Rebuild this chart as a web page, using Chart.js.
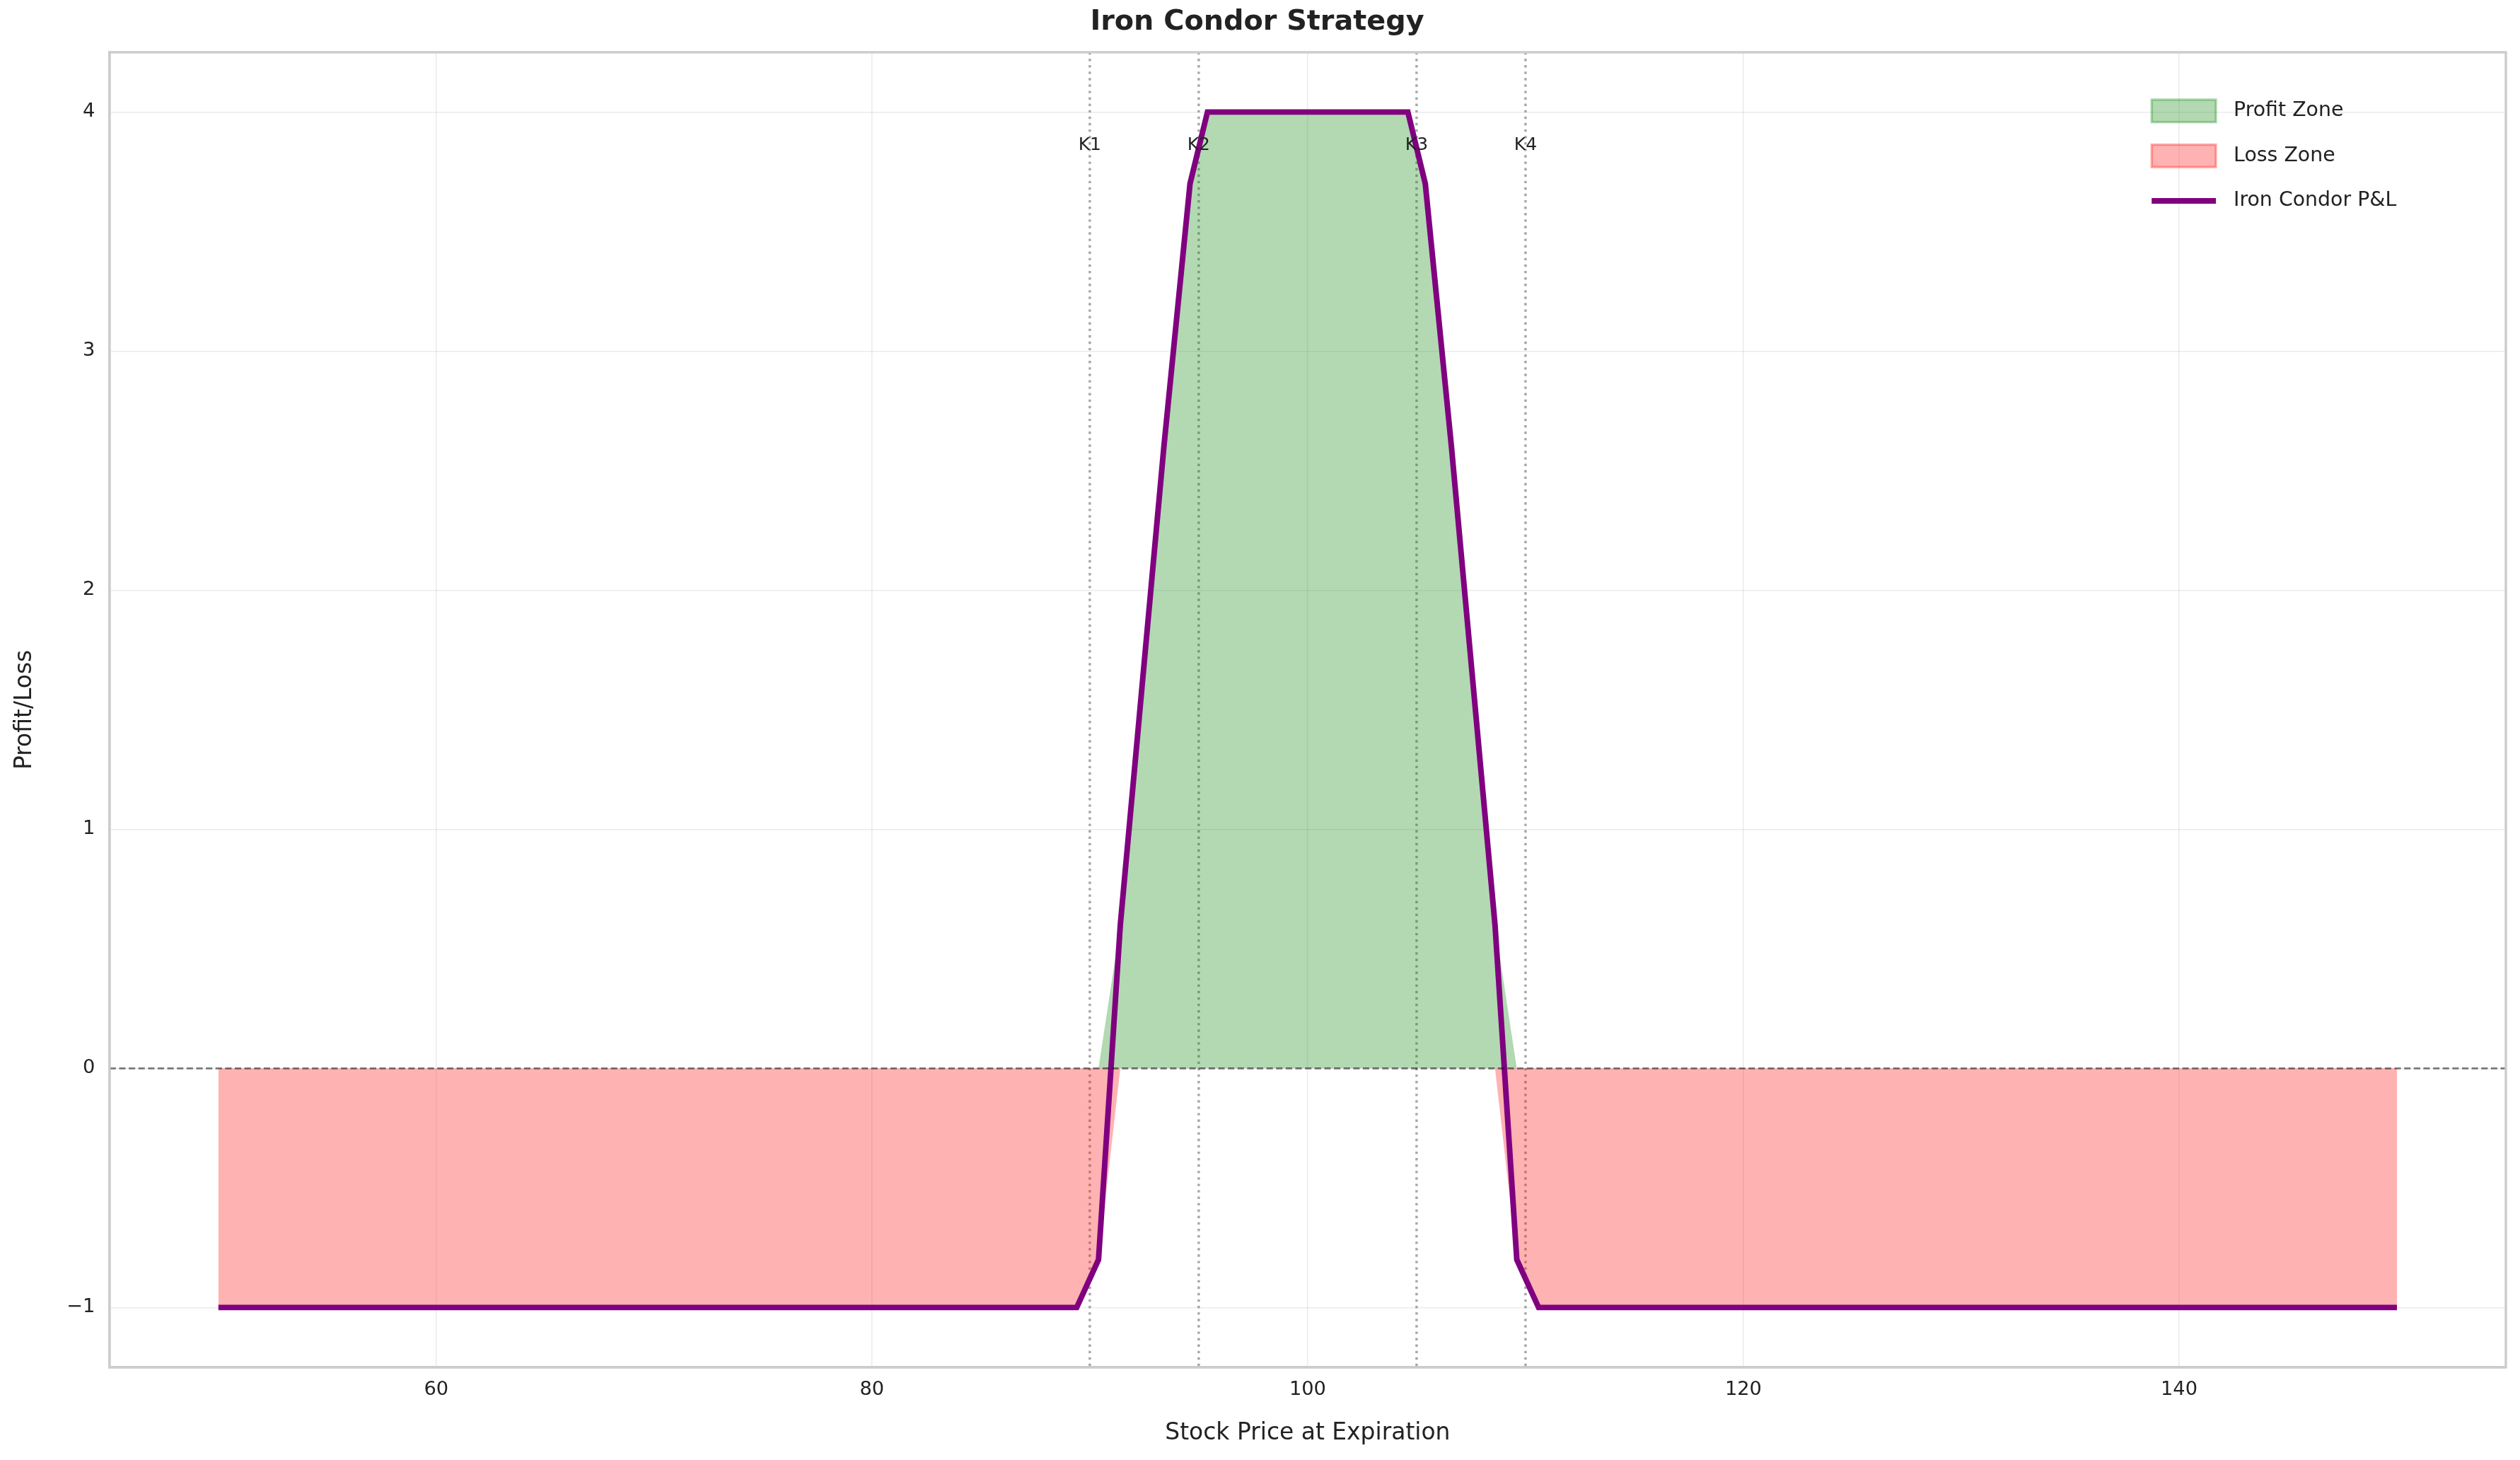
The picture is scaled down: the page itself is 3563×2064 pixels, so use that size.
<!DOCTYPE html>
<html>
<head>
<meta charset="utf-8">
<script src="https://cdn.jsdelivr.net/npm/chart.js@4"></script>
<style>
  body { margin: 0; background: #fff; }
  canvas { display: block; }
</style>
</head>
<body>
<canvas id="chart" width="3563" height="2064"></canvas>
<script>
// P&L curve
const prices = [50, 89.4, 90.4, 91.4, 92.4, 93.4, 94.6, 95.4, 104.6, 105.4, 106.6, 107.6, 108.6, 109.6, 110.6, 150];
const pnl = [-1, -1, -0.8, 0.6, 1.6, 2.6, 3.7, 4, 4, 3.7, 2.6, 1.6, 0.6, -0.8, -1, -1];
const strikes = [90, 95, 105, 110];
const strikeLabels = ['K1', 'K2', 'K3', 'K4'];

const S = 2.272;
const font = 'DejaVu Sans';

const pts = prices.map((x, i) => ({ x, y: pnl[i] }));
const profitPts = pts.map(p => ({ x: p.x, y: Math.max(p.y, 0) }));
const lossPts = pts.map(p => ({ x: p.x, y: Math.min(p.y, 0) }));

const extras = {
    id: 'extras',
    beforeDatasetsDraw(chart) {
        const { ctx, chartArea: a, scales: { x } } = chart;
        ctx.save();
        ctx.strokeStyle = 'rgba(128,128,128,0.7)';
        ctx.lineWidth = 1.5 * S;
        ctx.setLineDash([1.5 * S, 2.5 * S]);
        strikes.forEach(k => {
            const px = x.getPixelForValue(k);
            ctx.beginPath(); ctx.moveTo(px, a.top); ctx.lineTo(px, a.bottom); ctx.stroke();
        });
        ctx.restore();
    },
    afterDatasetsDraw(chart) {
        const { ctx, chartArea: a, scales: { x, y } } = chart;
        ctx.save();
        ctx.strokeStyle = 'rgba(0,0,0,0.5)';
        ctx.lineWidth = 1.3 * S;
        ctx.setLineDash([4 * S, 2 * S]);
        const py = y.getPixelForValue(0);
        ctx.beginPath(); ctx.moveTo(a.left, py); ctx.lineTo(a.right, py); ctx.stroke();
        ctx.setLineDash([]);
        // frame top/right
        ctx.strokeStyle = '#ccc'; ctx.lineWidth = 1.5 * S;
        ctx.strokeRect(a.left, a.top, a.right - a.left, a.bottom - a.top);
        // strike labels
        ctx.fillStyle = '#222';
        ctx.font = `${11 * S}px ${font}`;
        ctx.textAlign = 'center';
        ctx.textBaseline = 'middle';
        strikes.forEach((k, i) => ctx.fillText(strikeLabels[i], x.getPixelForValue(k), y.getPixelForValue(3.86)));
        // legend
        const items = [
            { t: 'Profit Zone', kind: 'box', f: 'rgba(0,128,0,0.3)', s: 'rgba(0,128,0,0.3)' },
            { t: 'Loss Zone', kind: 'box', f: 'rgba(255,0,0,0.3)', s: 'rgba(255,0,0,0.3)' },
            { t: 'Iron Condor P&L', kind: 'line', s: 'purple' }
        ];
        ctx.font = `${12.5 * S}px ${font}`;
        ctx.textAlign = 'left';
        const lx = 1339 * S, ly0 = 69 * S, dy = 28 * S;
        items.forEach((it, i) => {
            const cy = ly0 + i * dy;
            if (it.kind === 'box') {
                ctx.fillStyle = it.f; ctx.fillRect(lx, cy - 7 * S, 40 * S, 14 * S);
                ctx.strokeStyle = it.s; ctx.lineWidth = 1.5 * S; ctx.strokeRect(lx, cy - 7 * S, 40 * S, 14 * S);
            } else {
                ctx.strokeStyle = it.s; ctx.lineWidth = 3.5 * S;
                ctx.beginPath(); ctx.moveTo(lx, cy); ctx.lineTo(lx + 40 * S, cy); ctx.stroke();
            }
            ctx.fillStyle = '#222';
            ctx.fillText(it.t, lx + 51 * S, cy);
        });
        ctx.restore();
    }
};

new Chart(document.getElementById('chart'), {
    type: 'line',
    data: {
        datasets: [
            { label: 'Iron Condor P&L', data: pts, fill: false, borderColor: 'purple', borderWidth: 3.5 * S, pointRadius: 0 },
            { label: 'Profit Zone', data: profitPts, fill: 'origin', backgroundColor: 'rgba(0,128,0,0.3)', borderColor: 'rgba(0,0,0,0)', borderWidth: 0, pointRadius: 0 },
            { label: 'Loss Zone', data: lossPts, fill: 'origin', backgroundColor: 'rgba(255,0,0,0.3)', borderColor: 'rgba(0,0,0,0)', borderWidth: 0, pointRadius: 0 }
        ]
    },
    options: {
        responsive: false,
        animation: false,
        devicePixelRatio: 1,
        layout: { padding: { left: 12, right: 20, top: 8, bottom: 14 } },
        plugins: {
            legend: { display: false },
            tooltip: { enabled: false },
            title: {
                display: true, text: 'Iron Condor Strategy', color: '#222',
                font: { family: font, size: 17.5 * S, weight: 'bold' }, padding: { top: 0, bottom: 8 * S }
            }
        },
        scales: {
            x: {
                type: 'linear', min: 45, max: 155,
                afterBuildTicks: ax => { ax.ticks = [60, 80, 100, 120, 140].map(v => ({ value: v })); },
                grid: { color: 'rgba(0,0,0,0.08)', lineWidth: 1.5, drawTicks: false },
                border: { color: '#ccc', width: 1.5 * S },
                ticks: { color: '#222', font: { family: font, size: 12 * S }, padding: 7 * S },
                title: { display: true, text: 'Stock Price at Expiration', color: '#222', font: { family: font, size: 14.5 * S }, padding: { top: 4 * S } }
            },
            y: {
                min: -1.25, max: 4.25,
                afterBuildTicks: ax => { ax.ticks = [-1, 0, 1, 2, 3, 4].map(v => ({ value: v })); },
                grid: { color: 'rgba(0,0,0,0.08)', lineWidth: 1.5, drawTicks: false },
                border: { color: '#ccc', width: 1.5 * S },
                ticks: { color: '#222', font: { family: font, size: 12 * S }, padding: 9 * S,
                    callback: v => v < 0 ? '\u2212' + Math.abs(v) : v },
                title: { display: true, text: 'Profit/Loss', color: '#222', font: { family: font, size: 14.5 * S }, padding: { bottom: 8 * S } }
            }
        }
    },
    plugins: [extras]
});
</script>
</body>
</html>
